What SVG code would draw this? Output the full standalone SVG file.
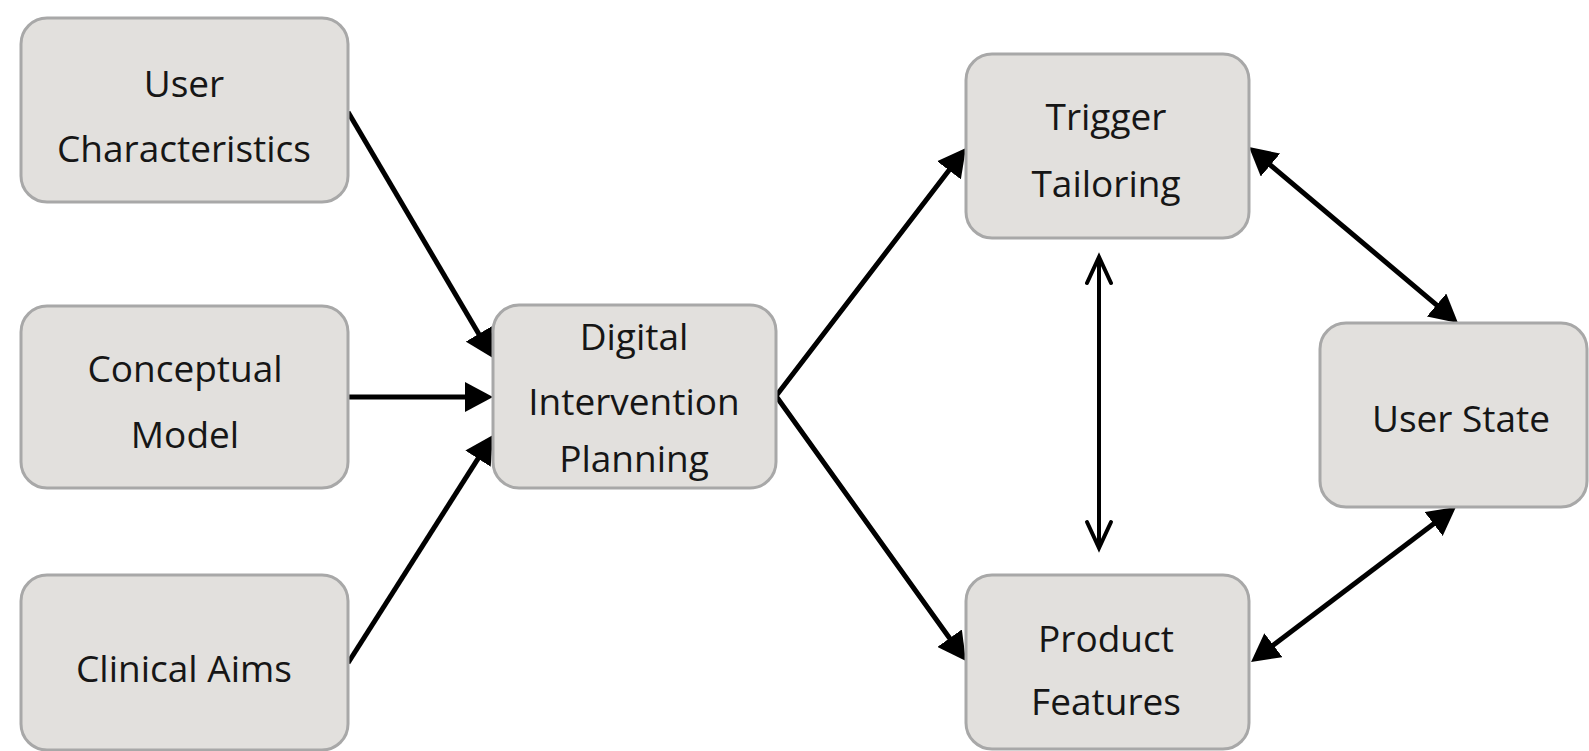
<svg xmlns="http://www.w3.org/2000/svg" width="1589" height="751" viewBox="0 0 1589 751">
<style>
.box{fill:#e2e0dd;stroke:#a8a8a8;stroke-width:3}
.lbl{font-family:"Open Sans","Liberation Sans",sans-serif;font-size:37px;fill:#161616;text-anchor:middle}
.con{fill:none;stroke:#000;stroke-width:5}
.thin{fill:none;stroke:#000;stroke-width:4}
</style>
<defs>
<marker id="tri" markerUnits="userSpaceOnUse" viewBox="0 0 28 30" refX="8" refY="15" markerWidth="28" markerHeight="30" orient="auto-start-reverse">
<path d="M0,0 L28,15 L0,30 z" fill="#000"/>
</marker>
<marker id="vee" markerUnits="userSpaceOnUse" viewBox="-3 -3 32 30" refX="26" refY="12" markerWidth="32" markerHeight="30" orient="auto-start-reverse" overflow="visible">
<path d="M0,0 L26,12 L0,24" fill="none" stroke="#000" stroke-width="4" stroke-linecap="round" stroke-linejoin="miter"/>
</marker>
</defs>
<rect width="1589" height="751" fill="#fff"/>
<g id="connectors">
<path class="con" d="M348,112 L482.8,340.8" marker-end="url(#tri)"/>
<path class="con" d="M348,397 L473,397" marker-end="url(#tri)"/>
<path class="con" d="M348,663 L482.3,451.9" marker-end="url(#tri)"/>
<path class="con" stroke-linejoin="miter" d="M953.8,163.9 L776,396 L954.3,644.7" marker-start="url(#tri)" marker-end="url(#tri)"/>
<path class="con" d="M1264.3,159.9 L1442.7,310.1" marker-start="url(#tri)" marker-end="url(#tri)"/>
<path class="con" d="M1267,650 L1440,519.1" marker-start="url(#tri)" marker-end="url(#tri)"/>
<path class="thin" d="M1099,257 L1099,548" marker-start="url(#vee)" marker-end="url(#vee)"/>
</g>
<g id="user-characteristics">
<rect class="box" x="21" y="18" width="327" height="184" rx="26"/>
<text class="lbl" x="184" y="97">User</text>
<text class="lbl" x="184" y="162">Characteristics</text>
</g>
<g id="conceptual-model">
<rect class="box" x="21" y="306" width="327" height="182" rx="26"/>
<text class="lbl" x="185" y="382">Conceptual</text>
<text class="lbl" x="185" y="448">Model</text>
</g>
<g id="clinical-aims">
<rect class="box" x="21" y="575" width="327" height="175" rx="26"/>
<text class="lbl" x="184" y="682">Clinical Aims</text>
</g>
<g id="digital-intervention-planning">
<rect class="box" x="493" y="305" width="283" height="183" rx="26"/>
<text class="lbl" x="634" y="350">Digital</text>
<text class="lbl" x="634" y="415">Intervention</text>
<text class="lbl" x="634" y="472">Planning</text>
</g>
<g id="trigger-tailoring">
<rect class="box" x="966" y="54" width="283" height="184" rx="26"/>
<text class="lbl" x="1106" y="130">Trigger</text>
<text class="lbl" x="1106" y="197">Tailoring</text>
</g>
<g id="product-features">
<rect class="box" x="966" y="575" width="283" height="174" rx="26"/>
<text class="lbl" x="1106" y="652">Product</text>
<text class="lbl" x="1106" y="715">Features</text>
</g>
<g id="user-state">
<rect class="box" x="1320" y="323" width="267" height="184" rx="26"/>
<text class="lbl" x="1461" y="432">User State</text>
</g>
</svg>
